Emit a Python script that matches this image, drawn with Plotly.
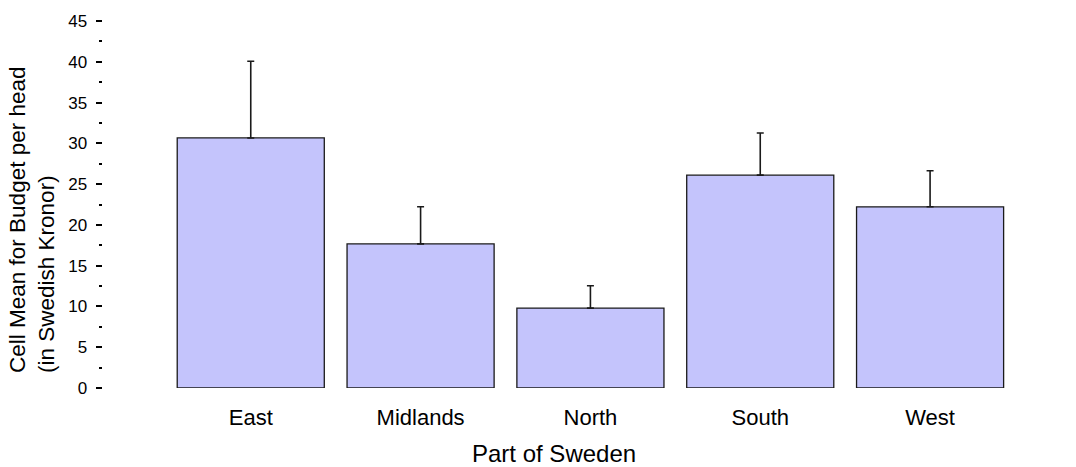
import plotly.graph_objects as go

# Regional cell means and standard errors
regions = ["East", "Midlands", "North", "South", "West"]
cell_means = [30.66, 17.67, 9.80, 26.10, 22.22]
std_errors = [9.41, 4.55, 2.73, 5.17, 4.41]
y_ticks = [0, 5, 10, 15, 20, 25, 30, 35, 40, 45]

positions = list(range(len(regions)))

FONT = "Liberation Sans, Arial, sans-serif"
W, H = 1076, 467
L, R, T, B = 103, 61, 20.5, 78.5

fig = go.Figure()
fig.add_trace(go.Bar(
    x=positions,
    y=cell_means,
    width=0.866,
    marker=dict(color="#C4C4FC", line=dict(color="#1a1a1a", width=1.3)),
    error_y=dict(
        type="data",
        array=std_errors,
        arrayminus=[0] * len(std_errors),
        symmetric=False,
        color="#1a1a1a",
        thickness=1.6,
        width=3.5,
    ),
    showlegend=False,
))

fig.update_layout(
    width=W,
    height=H,
    margin=dict(l=L, r=R, t=T, b=B, pad=0),
    paper_bgcolor="white",
    plot_bgcolor="white",
    font=dict(family=FONT, color="black"),
    xaxis=dict(
        range=[-0.87, 4.5],
        tickmode="array",
        tickvals=positions,
        ticktext=regions,
        tickfont=dict(size=22, family=FONT, color="black"),
        showgrid=False,
        zeroline=False,
        showline=False,
        ticks="",
        ticklabelstandoff=14,
    ),
    yaxis=dict(
        range=[0, 45],
        tickmode="array",
        tickvals=y_ticks,
        ticks="outside",
        ticklen=6.5,
        tickwidth=1.5,
        tickcolor="black",
        tickfont=dict(size=17, family=FONT, color="black"),
        ticklabelstandoff=5,
        showgrid=False,
        zeroline=False,
        showline=False,
        minor=dict(
            dtick=2.5,
            tick0=0,
            ticks="outside",
            ticklen=3.5,
            tickwidth=1.5,
            tickcolor="black",
            showgrid=False,
        ),
    ),
    annotations=[
        dict(
            text="Cell Mean for Budget per head<br>(in Swedish Kronor)",
            xref="paper", yref="paper",
            x=0, y=(388.5 - 220) / (H - T - B),
            xanchor="center", yanchor="middle",
            xshift=-(L - 32),
            textangle=-90,
            align="left",
            showarrow=False,
            font=dict(size=22.5, family=FONT, color="black"),
        ),
        dict(
            text="Part of Sweden",
            xref="paper", yref="paper",
            x=0, y=0,
            xanchor="center", yanchor="middle",
            xshift=554 - L,
            yshift=-(453.5 - 388.5),
            showarrow=False,
            font=dict(size=24, family=FONT, color="black"),
        ),
    ],
)

fig.write_html("out.html")
